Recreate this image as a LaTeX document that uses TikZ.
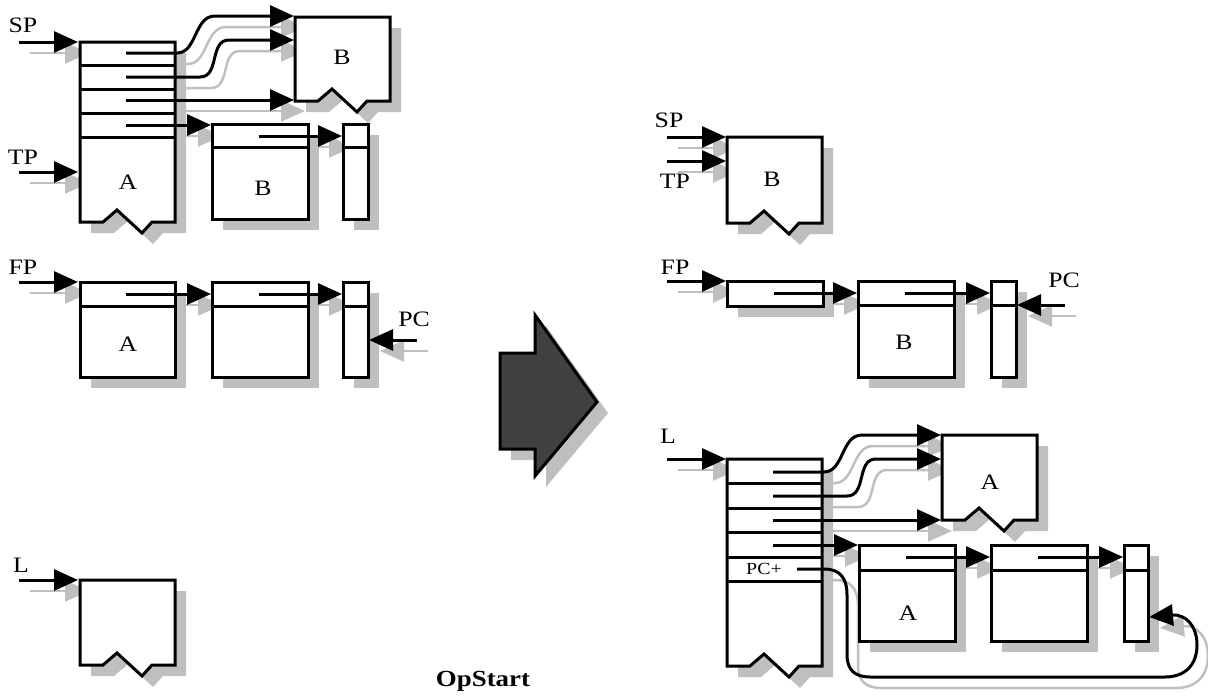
\documentclass[tikz,border=0pt]{standalone}
\usepackage{fontspec}
\setmainfont{Liberation Serif}[FakeStretch=1.17]
\usetikzlibrary{arrows.meta}
\definecolor{sg}{RGB}{191,191,191}
\definecolor{dk}{RGB}{64,64,64}
\newcommand\zigbox[3]{\path[bx] (#1,#2) -- ({#1+95},#2) -- ({#1+95},#3) -- ({#1+72},#3) -- ({#1+62},{#3+11}) -- ({#1+37},{#3-12}) -- ({#1+23},#3) -- (#1,#3) -- cycle;}
\newcommand\recbox[4]{\path[bx] (#1,#2) rectangle (#3,#4);}
\newcommand\divline[3]{\path[dv] (#1,#3) -- (#2,#3);}
\newcommand\mkconn[3]{\coordinate (#1a) at (#2); \coordinate (#1b) at (#3); \path[ar] (#1a) -- (#1b);}
\newcommand\allboxes{%
  % left page
  \zigbox{80}{42}{222}
  \divline{80}{175}{65}\divline{80}{175}{89}\divline{80}{175}{113}\divline{80}{175}{137}
  \zigbox{295}{17}{101}
  \recbox{212}{124}{308}{219}\divline{212}{308}{147}
  \recbox{343}{124}{368}{219}\divline{343}{368}{147}
  \recbox{80}{282}{175}{377}\divline{80}{175}{306}
  \recbox{212}{282}{308}{377}\divline{212}{308}{306}
  \recbox{343}{282}{368}{377}\divline{343}{368}{306}
  \zigbox{80}{580}{665}
  % big arrow
  \path[big] (500,353) -- (535,353) -- (535,315) -- (597,402) -- (535,476) -- (535,449) -- (500,449) -- cycle;
  % right page
  \zigbox{727}{137}{223}
  \recbox{727}{281}{823}{306}
  \recbox{858}{281}{954}{377}\divline{858}{954}{305}
  \recbox{991}{281}{1016}{377}\divline{991}{1016}{305}
  \zigbox{727}{459}{666}
  \divline{727}{822}{483}\divline{727}{822}{508}\divline{727}{822}{532}\divline{727}{822}{557}\divline{727}{822}{581}
  \zigbox{942}{435}{520}
  \recbox{859}{545}{955}{641}\divline{859}{955}{570}
  \recbox{991}{545}{1087}{641}\divline{991}{1087}{570}
  \recbox{1124}{545}{1148}{641}\divline{1124}{1148}{570}
}
\newcommand\alllinks{%
  % left page
  \mkconn{sp}{19,42}{78,42}
  \mkconn{tp}{19,172}{78,172}
  \coordinate (sa1) at (126,53); \coordinate (sb1) at (294,16);
  \path[ar] (sa1) -- (177,53) .. controls (197,53) and (194,16) .. (215,16) -- (sb1);
  \coordinate (sa2) at (126,77); \coordinate (sb2) at (294,40);
  \path[ar] (sa2) -- (200,77) .. controls (220,77) and (209,40) .. (229,40) -- (sb2);
  \mkconn{sa3}{126,100}{294,100}
  \mkconn{sa4}{126,125}{211,125}
  \mkconn{sa5}{259,136}{342,136}
  \mkconn{fp}{19,282}{78,282}
  \mkconn{fa1}{126,294}{211,294}
  \mkconn{fa2}{259,294}{342,294}
  \mkconn{pc}{417,340}{369,340}
  \mkconn{ll}{19,580}{78,580}
  % right page
  \mkconn{rsp}{667,137}{726,137}
  \mkconn{rtp}{667,161}{726,161}
  \mkconn{rfp}{667,281}{726,281}
  \mkconn{rf1}{774,293}{857,293}
  \mkconn{rf2}{905,293}{990,293}
  \mkconn{rpc}{1065,305}{1017,305}
  \mkconn{rl}{667,459}{726,459}
  \coordinate (ra1) at (773,472); \coordinate (rb1) at (941,435);
  \path[ar] (ra1) -- (824,472) .. controls (844,472) and (841,435) .. (862,435) -- (rb1);
  \coordinate (ra2) at (773,496); \coordinate (rb2) at (941,459);
  \path[ar] (ra2) -- (847,496) .. controls (867,496) and (856,459) .. (876,459) -- (rb2);
  \mkconn{ra3}{773,520}{941,520}
  \mkconn{ra4}{773,545}{858,545}
  \mkconn{ra5}{906,557}{990,557}
  \mkconn{ra6}{1038,557}{1123,557}
  \coordinate (lpa) at (797,569); \coordinate (lpb) at (1149,617);
  \path[ar] (lpa) -- (824,569) .. controls (840,569) and (847,578) .. (847,595) -- (847,655) .. controls (847,670) and (855,677) .. (870,677) -- (1165,677) .. controls (1185,677) and (1197,665) .. (1197,645) .. controls (1197,625) and (1185,614) .. (lpb);
}
\tikzset{lab/.style={font=\fontsize{22}{22}\selectfont, inner sep=0pt}}
\begin{document}
\begin{tikzpicture}[x=1pt,y=-1pt]
\useasboundingbox (0,0) rectangle (1208,699);
\begin{scope}[shift={(11,11)},
  bx/.style={fill=sg}, dv/.style={},
  ar/.style={draw=sg, line width=2.5pt, -{Triangle[length=24pt,width=21pt]}},
  big/.style={fill=sg}]
  \allboxes
  \alllinks
\end{scope}
\begin{scope}[
  bx/.style={fill=white, draw=black, line width=3pt},
  dv/.style={draw=black, line width=3pt},
  ar/.style={draw=black, line width=3pt, -{Triangle[length=24pt,width=21pt]}},
  big/.style={fill=dk, draw=black, line width=3pt}]
  \allboxes
  \alllinks
\end{scope}
\node[lab] (tSP) at (23,25) {SP};
\node[lab] (tTP) at (23,157) {TP};
\node[lab] (tA1) at (128,182) {A};
\node[lab] (tB1) at (342,57) {B};
\node[lab] (tB2) at (263,188) {B};
\node[lab] (tFP) at (23,267) {FP};
\node[lab] (tA2) at (128,344) {A};
\node[lab] (tPC) at (414,319) {PC};
\node[lab] (tL) at (21,565) {L};
\node[font=\fontsize{23}{23}\selectfont\bfseries, inner sep=0pt] (tOp) at (483,681) {OpStart};
\node[lab] (rSP) at (669,120) {SP};
\node[lab] (rTP) at (675,181) {TP};
\node[lab] (rB1) at (772,179) {B};
\node[lab] (rFP) at (675,267) {FP};
\node[lab] (rB2) at (904,342) {B};
\node[lab] (rPC) at (1064,280) {PC};
\node[lab] (rL) at (668,436) {L};
\node[lab] (rA1) at (990,482) {A};
\node[lab] (rA2) at (908,613) {A};
\node[font=\fontsize{17}{17}\selectfont, inner sep=0pt] (rPCp) at (764,569) {PC+};
\end{tikzpicture}
\end{document}
